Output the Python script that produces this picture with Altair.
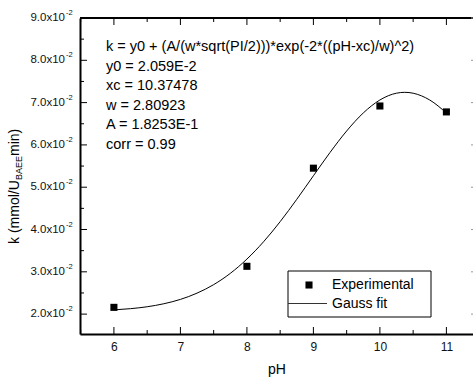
import altair as alt
import pandas as pd

# Experimental data
ph = [6, 8, 9, 10, 11]
k_exp = [0.0216, 0.0313, 0.0545, 0.0692, 0.0678]

# Gauss fit curve
fit_ph = [6.0, 6.25, 6.5, 6.75, 7.0, 7.25, 7.5, 7.75, 8.0, 8.25, 8.5, 8.75,
          9.0, 9.25, 9.5, 9.75, 10.0, 10.25, 10.375, 10.5, 10.75, 11.0]
fit_k = [0.02100, 0.02129, 0.02174, 0.02245, 0.02348, 0.02496, 0.02697, 0.02963,
         0.03301, 0.03710, 0.04186, 0.04714, 0.05270, 0.05821, 0.06329, 0.06755,
         0.07062, 0.07223, 0.07243, 0.07222, 0.07061, 0.06754]

x_major = [6, 7, 8, 9, 10, 11]
x_minor = [5.5, 6.5, 7.5, 8.5, 9.5, 10.5]
y_major = [0.02, 0.03, 0.04, 0.05, 0.06, 0.07, 0.08, 0.09]
y_minor = [0.025, 0.035, 0.045, 0.055, 0.065, 0.075, 0.085]
y_labels = ["2.0x10", "3.0x10", "4.0x10", "5.0x10", "6.0x10", "7.0x10", "8.0x10", "9.0x10"]

note_lines = [
    "k = y0 + (A/(w*sqrt(PI/2)))*exp(-2*((pH-xc)/w)^2)",
    "y0 = 2.059E-2",
    "xc = 10.37478",
    "w = 2.80923",
    "A = 1.8253E-1",
    "corr = 0.99",
]

W, H = 393, 316
FONT = "Liberation Sans"

xs = alt.Scale(domain=[5.49, 11.4], nice=False, zero=False)
ys = alt.Scale(domain=[0.0153, 0.09], nice=False, zero=False)

exp_df = pd.DataFrame({"pH": ph, "k": k_exp})
fit_df = pd.DataFrame({"pH": fit_ph, "k": fit_k})

fit = alt.Chart(fit_df).mark_line(color="black", strokeWidth=1, interpolate="monotone").encode(
    x=alt.X("pH:Q", scale=xs,
            axis=alt.Axis(title="pH", ticks=False, values=x_major, format="d", labelFontSize=12,
                          labelFont=FONT, labelColor="#111", labelPadding=7,
                          titleFont=FONT, titleFontSize=14, titleFontWeight="normal",
                          titlePadding=10, domainColor="black", domainWidth=2, grid=False)),
    y=alt.Y("k:Q", scale=ys,
            axis=alt.Axis(title=None, labels=False, ticks=False, domainColor="black",
                          domainWidth=2, grid=False)),
)

pts = alt.Chart(exp_df).mark_point(shape="square", filled=True, color="black", size=50, opacity=1).encode(
    x=alt.X("pH:Q", scale=xs), y=alt.Y("k:Q", scale=ys)
)

# frame top
top = alt.Chart(pd.DataFrame({"a": [0]})).mark_rule(color="black", strokeWidth=2).encode(
    x=alt.value(0), x2=alt.value(W), y=alt.value(0)
)

xmaj = pd.DataFrame({"pH": x_major})
xmin = pd.DataFrame({"pH": x_minor})
ymaj = pd.DataFrame({"k": y_major, "lab": y_labels})
ymin = pd.DataFrame({"k": y_minor})

tk = dict(color="black", strokeWidth=1)
ticks = [
    alt.Chart(xmaj).mark_rule(**tk).encode(x=alt.X("pH:Q", scale=xs), y=alt.value(H), y2=alt.value(H - 7)),
    alt.Chart(xmin).mark_rule(**tk).encode(x=alt.X("pH:Q", scale=xs), y=alt.value(H), y2=alt.value(H - 4)),
    alt.Chart(xmaj).mark_rule(**tk).encode(x=alt.X("pH:Q", scale=xs), y=alt.value(0), y2=alt.value(7)),
    alt.Chart(xmin).mark_rule(**tk).encode(x=alt.X("pH:Q", scale=xs), y=alt.value(0), y2=alt.value(4)),
    alt.Chart(ymaj).mark_rule(**tk).encode(y=alt.Y("k:Q", scale=ys), x=alt.value(0), x2=alt.value(7)),
    alt.Chart(ymin).mark_rule(**tk).encode(y=alt.Y("k:Q", scale=ys), x=alt.value(0), x2=alt.value(4)),
    alt.Chart(ymaj).mark_rule(color="#999", strokeWidth=1).encode(y=alt.Y("k:Q", scale=ys), x=alt.value(W - 2), x2=alt.value(W)),
]

ylab = alt.Chart(ymaj).mark_text(align="right", baseline="middle", font=FONT, fontSize=11.5, color="#111").encode(
    y=alt.Y("k:Q", scale=ys), x=alt.value(-15), text="lab:N"
)
ysup = alt.Chart(ymaj).mark_text(align="left", baseline="middle", font=FONT, fontSize=7.5, color="#111", dy=-5).encode(
    y=alt.Y("k:Q", scale=ys), x=alt.value(-14), text=alt.value("-2")
)

# y title with subscript
tstyle = dict(angle=270, align="left", baseline="middle", font=FONT, color="black")
yt1 = alt.Chart(pd.DataFrame({"t": ["k (mmol/U"]})).mark_text(fontSize=14, **tstyle).encode(
    x=alt.value(-65), y=alt.value(226), text="t:N")
yt2 = alt.Chart(pd.DataFrame({"t": ["BAEE"]})).mark_text(fontSize=9, **tstyle).encode(
    x=alt.value(-61), y=alt.value(162), text="t:N")
yt3 = alt.Chart(pd.DataFrame({"t": ["min)"]})).mark_text(fontSize=14, **tstyle).encode(
    x=alt.value(-65), y=alt.value(138), text="t:N")

# annotation
notes = []
for i, line in enumerate(note_lines):
    notes.append(
        alt.Chart(pd.DataFrame({"t": [line]})).mark_text(
            align="left", baseline="middle", font=FONT, fontSize=14.5, color="black"
        ).encode(x=alt.value(26), y=alt.value(29 + i * 19.6), text="t:N")
    )

# legend
lbox = alt.Chart(pd.DataFrame({"a": [0]})).mark_rect(fill="white", stroke="black", strokeWidth=1).encode(
    x=alt.value(208), x2=alt.value(351), y=alt.value(253), y2=alt.value(299))
lsq = alt.Chart(pd.DataFrame({"a": [0]})).mark_point(shape="square", filled=True, color="black", size=50, opacity=1).encode(
    x=alt.value(229), y=alt.value(267))
lline = alt.Chart(pd.DataFrame({"a": [0]})).mark_rule(color="#333", strokeWidth=1).encode(
    x=alt.value(208), x2=alt.value(247), y=alt.value(285.5))
ltxt = [
    alt.Chart(pd.DataFrame({"t": [s]})).mark_text(align="left", baseline="middle", font=FONT, fontSize=14, color="black").encode(
        x=alt.value(252), y=alt.value(yy), text="t:N")
    for s, yy in [("Experimental", 267), ("Gauss fit", 285.5)]
]

chart = alt.layer(
    fit, pts, top, *ticks, ylab, ysup, yt1, yt2, yt3, *notes, lbox, lsq, lline, *ltxt
).properties(
    width=W, height=H,
    autosize=alt.AutoSizeParams(type="none"),
    padding={"left": 80, "top": 18, "right": 0, "bottom": 45},
).configure_view(stroke=None).configure(background="white")

chart.save("out.html", embed_options={"renderer": "svg", "actions": False})
